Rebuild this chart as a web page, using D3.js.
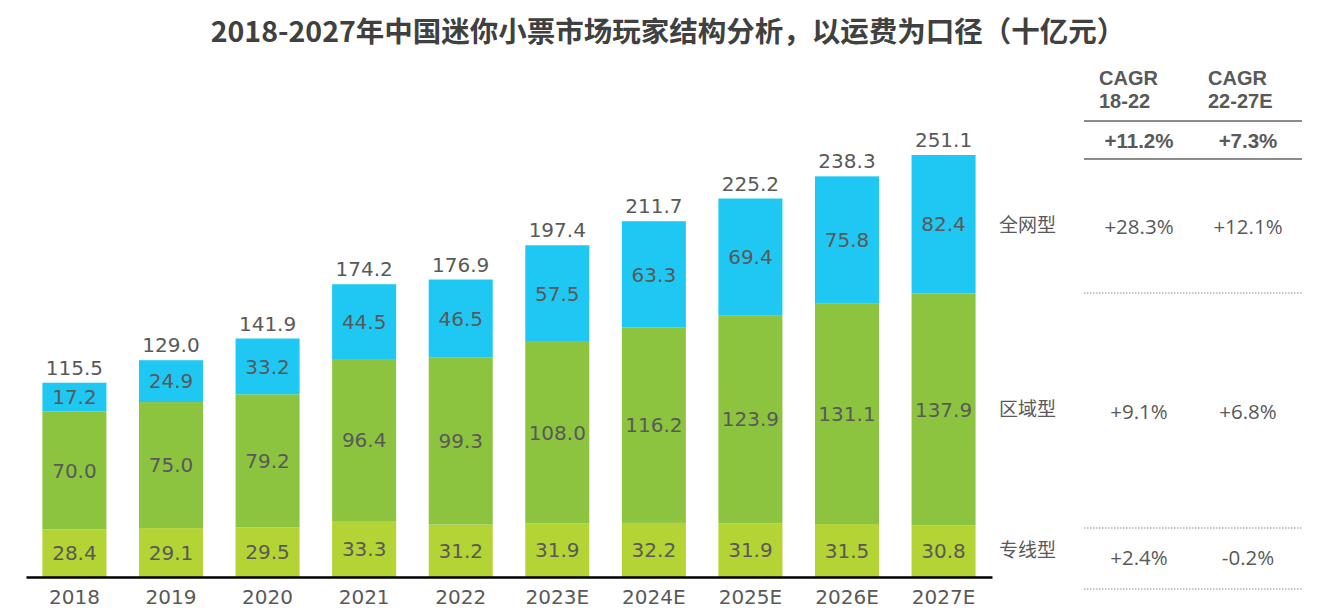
<!DOCTYPE html>
<html><head><meta charset="utf-8">
<script src="https://cdn.jsdelivr.net/npm/d3@7"></script>
<style>body{margin:0;background:#fff}svg{display:block}</style>
</head><body>
<svg id="c" width="1328" height="616"></svg>
<script>
const categories = ["2018","2019","2020","2021","2022","2023E","2024E","2025E","2026E","2027E"];
const zhuanxian = [28.4,29.1,29.5,33.3,31.2,31.9,32.2,31.9,31.5,30.8];
const quyu = [70.0,75.0,79.2,96.4,99.3,108.0,116.2,123.9,131.1,137.9];
const quanwang = [17.2,24.9,33.2,44.5,46.5,57.5,63.3,69.4,75.8,82.4];
const totals = [115.5,129.0,141.9,174.2,176.9,197.4,211.7,225.2,238.3,251.1];
const seriesNames = ["专线型","区域型","全网型"];
const cagrHeaders = [["CAGR","18-22"],["CAGR","22-27E"]];
const cagrTotal = ["+11.2%","+7.3%"];
const cagrRows = [["+28.3%","+12.1%"],["+9.1%","+6.8%"],["+2.4%","-0.2%"]]; // 全网型, 区域型, 专线型
const rowLabels = ["全网型","区域型","专线型"];
const title = "2018-2027年中国迷你小票市场玩家结构分析，以运费为口径（十亿元）";

const colors = {"专线型":"#B4D334","区域型":"#8CC43F","全网型":"#1FC8F3"};
const txt = "#595959";
const numFont = "'DejaVu Sans', Verdana, sans-serif";
const cjk = "'Noto Sans CJK SC', sans-serif";

const svg = d3.select("#c");
const x = d3.scaleBand().domain(categories).range([26, 992]).paddingInner(0.337).paddingOuter(0.17);
const y = d3.scaleLinear().domain([0, 251.1]).range([577, 155]);

const rows = categories.map((c,i)=>({cat:c,"专线型":zhuanxian[i],"区域型":quyu[i],"全网型":quanwang[i]}));
const stack = d3.stack().keys(seriesNames)(rows);

svg.append("text").attr("x",668).attr("y",42).attr("text-anchor","middle")
  .attr("font-family",cjk).attr("font-weight","bold").attr("font-size",28.5).attr("fill","#404040").text(title);

const g = svg.append("g");
stack.forEach(layer=>{
  const key = layer.key;
  g.selectAll(null).data(layer).enter().append("rect")
    .attr("x",d=>x(d.data.cat)).attr("width",x.bandwidth())
    .attr("y",d=>y(d[1])).attr("height",d=>y(d[0])-y(d[1]))
    .attr("fill",colors[key]);
  g.selectAll(null).data(layer).enter().append("text")
    .attr("x",d=>x(d.data.cat)+x.bandwidth()/2)
    .attr("y",d=>(y(d[0])+y(d[1]))/2).attr("dy","0.36em")
    .attr("text-anchor","middle").attr("font-family",numFont).attr("font-size",20).attr("fill",txt)
    .text(d=>d.data[key].toFixed(1));
});
const topLayer = stack[stack.length-1];
g.selectAll(null).data(topLayer).enter().append("text")
  .attr("x",d=>x(d.data.cat)+x.bandwidth()/2).attr("y",(d)=>y(d[1])-8)
  .attr("text-anchor","middle").attr("font-family",numFont).attr("font-size",20).attr("fill",txt)
  .text((d,i)=>totals[i].toFixed(1));

const ax = svg.append("g").attr("transform","translate(0,577)")
  .call(d3.axisBottom(x).tickSize(0).tickSizeOuter(0));
ax.select(".domain").attr("stroke","#000").attr("stroke-width",2.5);
ax.selectAll("text").attr("y",27).attr("dy",0).attr("font-family",numFont).attr("font-size",20).attr("fill",txt);

// right table
const tx0 = 1084, tx1 = 1302;
const colLeft = [1099,1208];
const colCenter = [1139,1248];
cagrHeaders.forEach((h,j)=>{
  h.forEach((line,k)=>{
    svg.append("text").attr("x",colLeft[j]).attr("y",85+k*23)
      .attr("font-family","'Liberation Sans', Arial, sans-serif").attr("font-weight","bold")
      .attr("font-size",20).attr("fill",txt).text(line);
  });
  svg.append("text").attr("x",colCenter[j]).attr("y",148).attr("text-anchor","middle")
    .attr("font-family","'Liberation Sans', Arial, sans-serif").attr("font-weight","bold")
    .attr("font-size",20.5).attr("fill",txt).text(cagrTotal[j]);
});
[121,159].forEach(yy=>svg.append("line").attr("x1",tx0).attr("x2",tx1).attr("y1",yy).attr("y2",yy)
  .attr("stroke","#8c8c8c").attr("stroke-width",2));
[293,528,589].forEach(yy=>svg.append("line").attr("x1",tx0).attr("x2",tx1).attr("y1",yy).attr("y2",yy)
  .attr("stroke","#8c8c8c").attr("stroke-width",1.2).attr("stroke-dasharray","1.5,1.5"));
const labelY = [225,409,550];
const valY = [227,412,558];
rowLabels.forEach((lab,i)=>{
  svg.append("text").attr("x",999).attr("y",labelY[i]).attr("dy","0.35em")
    .attr("font-family",cjk).attr("font-size",19).attr("fill",txt).text(lab);
  cagrRows[i].forEach((v,j)=>{
    svg.append("text").attr("x",colCenter[j]).attr("y",valY[i]).attr("dy","0.35em").attr("text-anchor","middle")
      .attr("font-family","'Open Sans', sans-serif").attr("font-size",20.5).attr("fill",txt).text(v);
  });
});
</script>
</body></html>
